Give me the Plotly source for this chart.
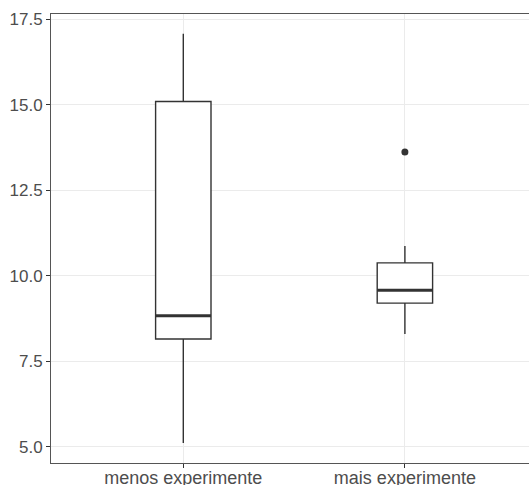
import plotly.graph_objects as go

categories = ["menos experimente", "mais experimente"]
lower_whisker = [5.11, 8.30]
q1 = [8.15, 9.20]
median = [8.83, 9.58]
q3 = [15.10, 10.38]
upper_whisker = [17.08, 10.87]
outlier_cat = [1]
outlier_val = [13.62]
y_ticks = [5.0, 7.5, 10.0, 12.5, 15.0, 17.5]
y_ticklabels = ["5.0", "7.5", "10.0", "12.5", "15.0", "17.5"]

pos = list(range(len(categories)))
box_half = 0.125
line_col = "#333333"

fig = go.Figure()
fig.add_trace(go.Box(
    x=pos, q1=q1, median=median, q3=q3,
    lowerfence=lower_whisker, upperfence=upper_whisker,
    width=2 * box_half, whiskerwidth=0,
    fillcolor="white", line=dict(color=line_col, width=1.4),
    boxpoints=False, showlegend=False, hoverinfo="skip",
))
for p, m in zip(pos, median):
    fig.add_trace(go.Scatter(
        x=[p - box_half, p + box_half], y=[m, m], mode="lines",
        line=dict(color=line_col, width=3), showlegend=False, hoverinfo="skip",
    ))
fig.add_trace(go.Scatter(
    x=outlier_cat, y=outlier_val, mode="markers",
    marker=dict(color=line_col, size=7), showlegend=False,
))

fig.update_layout(
    width=529, height=485,
    margin=dict(l=51, r=0, t=14, b=22, autoexpand=False),
    paper_bgcolor="white", plot_bgcolor="white",
    font=dict(family="Liberation Sans, Arial, sans-serif", size=17, color="#4D4D4D"),
)
fig.update_xaxes(
    range=[-0.597, 1.56], tickmode="array", tickvals=pos, ticktext=categories,
    showgrid=True, gridcolor="#EBEBEB", gridwidth=1, zeroline=False,
    showline=True, linecolor="#555555", linewidth=1, mirror=True,
    ticks="outside", ticklen=4, tickcolor="#333333", automargin=False,
    ticklabelstandoff=-6,
    tickfont=dict(size=18, color="#4D4D4D"),
)
fig.update_yaxes(
    range=[4.524, 17.66], tickmode="array", tickvals=y_ticks, ticktext=y_ticklabels,
    showgrid=True, gridcolor="#EBEBEB", gridwidth=1, zeroline=False,
    showline=True, linecolor="#555555", linewidth=1, mirror=False,
    ticks="outside", ticklen=4, tickcolor="#333333", automargin=False,
    tickfont=dict(size=17, color="#4D4D4D"),
)
fig.write_html(
    "out.html",
    config={"displayModeBar": False},
    post_script="document.body.style.margin='0';document.body.style.overflow='hidden';",
)
